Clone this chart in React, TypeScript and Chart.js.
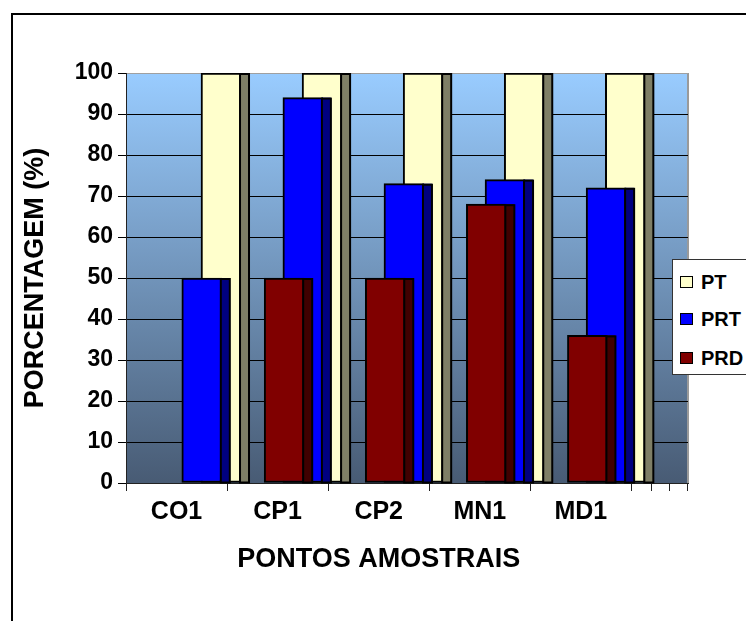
import React, { useEffect, useRef } from 'react';
import { Chart, registerables } from 'chart.js';

Chart.register(...registerables);

// ---- data ----
const categories = ['CO1', 'CP1', 'CP2', 'MN1', 'MD1'];
const ptValues = [100, 100, 100, 100, 100];
const prtValues = [50, 94, 73, 74, 72];
const prdValues = [0, 50, 50, 68, 36];
const seriesNames = ['PT', 'PRT', 'PRD'];
const yTickValues = [0, 10, 20, 30, 40, 50, 60, 70, 80, 90, 100];
const yAxisTitle = 'PORCENTAGEM (%)';
const xAxisTitle = 'PONTOS AMOSTRAIS';

// ---- style ----
const FONT = "'Liberation Sans', Arial, Helvetica, sans-serif";
const faceColors = ['#FFFFCC', '#0000FF', '#800000'];
const sideColors = ['#7F7F66', '#000080', '#400000'];
const seriesOffsets = [0.94, 0.75, 0.565]; // position of each series inside a category (3D depth look)
const drawOrder = [3, 2, 1];
const DEPTH = 0.56;
const depthTicks = [5.2, 5.38, 5.56];

const isHalf = (v: number) => Math.abs((v % 1) - 0.5) < 1e-6;

const plugin3d = {
  id: 'plot3d',
  beforeDraw(chart: any) {
    const { ctx, chartArea: a } = chart;
    ctx.save();
    const g = ctx.createLinearGradient(0, a.top, 0, a.bottom);
    g.addColorStop(0, '#99CCFF');
    g.addColorStop(1, '#485B74');
    ctx.fillStyle = g;
    ctx.fillRect(a.left, a.top, a.right - a.left, a.bottom - a.top);
    ctx.strokeStyle = '#9A9A9A';
    ctx.lineWidth = 2;
    ctx.beginPath();
    ctx.moveTo(a.right, a.top);
    ctx.lineTo(a.right, a.bottom);
    ctx.stroke();
    ctx.restore();
  },
  afterDatasetDraw(chart: any, args: any) {
    const ds = chart.data.datasets[args.index];
    const ctx = chart.ctx;
    ctx.save();
    args.meta.data.forEach((el: any) => {
      const { x, y, base, width } = el.getProps(['x', 'y', 'base', 'width'], true);
      if (Math.abs(base - y) < 0.5) return;
      const left = x + width / 2 - 1;
      ctx.fillStyle = ds.sideColor;
      ctx.fillRect(left, y, 9, base - y);
      ctx.strokeStyle = '#000';
      ctx.lineWidth = 2;
      ctx.strokeRect(left, y + 1, 9, base - y - 1);
    });
    ctx.restore();
  },
  afterDraw(chart: any) {
    const xs = chart.scales.x;
    const ctx = chart.ctx;
    ctx.save();
    ctx.font = `bold 27px ${FONT}`;
    ctx.fillStyle = '#000';
    ctx.textAlign = 'center';
    ctx.textBaseline = 'middle';
    ctx.fillText(xAxisTitle, xs.getPixelForValue(categories.length / 2), xs.bottom - 61);
    ctx.restore();
  },
};

export default function App() {
  const ref = useRef<HTMLCanvasElement>(null);

  useEffect(() => {
    if (!ref.current) return;
    Chart.defaults.font.family = FONT;
    Chart.defaults.color = '#000';
    const seriesValues = [ptValues, prtValues, prdValues];
    const datasets = seriesNames.map((name, s) => ({
      label: name,
      data: categories.map((_, i) => ({ x: i + seriesOffsets[s], y: seriesValues[s][i] })),
      backgroundColor: faceColors[s],
      borderColor: '#000',
      borderWidth: 2,
      borderSkipped: false,
      barThickness: 40,
      grouped: false,
      order: drawOrder[s],
      sideColor: sideColors[s],
    }));
    const chart = new Chart(ref.current, {
      type: 'bar',
      data: { datasets: datasets as any },
      plugins: [plugin3d],
      options: {
        animation: false,
        responsive: false,
        layout: { padding: { top: 73, right: 58, bottom: 0, left: 0 } },
        plugins: { legend: { display: false }, tooltip: { enabled: false } },
        scales: {
          x: {
            type: 'linear',
            offset: false,
            min: 0,
            max: categories.length + DEPTH,
            afterBuildTicks: (scale: any) => {
              const t: number[] = [];
              for (let i = 0; i <= categories.length; i++) {
                t.push(i);
                if (i < categories.length) t.push(i + 0.5);
              }
              scale.ticks = [...t, ...depthTicks].map((v) => ({ value: v }));
            },
            afterFit: (scale: any) => {
              scale.height = 138;
            },
            ticks: {
              autoSkip: false,
              maxRotation: 0,
              padding: 6,
              font: { size: 25, weight: 'bold' },
              color: '#000',
              callback: (v: any) => (isHalf(Number(v)) ? categories[Math.floor(Number(v))] : ''),
            },
            grid: {
              offset: false,
              drawOnChartArea: false,
              tickLength: 8,
              color: (c: any) => (c.tick && isHalf(c.tick.value) ? 'rgba(0,0,0,0)' : '#222'),
              tickColor: (c: any) => (c.tick && isHalf(c.tick.value) ? 'rgba(0,0,0,0)' : '#222'),
            },
            border: { display: true, color: '#222', width: 1 },
          },
          y: {
            min: 0,
            max: 100,
            afterBuildTicks: (scale: any) => {
              scale.ticks = yTickValues.map((v) => ({ value: v }));
            },
            afterFit: (scale: any) => {
              scale.width = 126;
            },
            ticks: {
              padding: 5,
              font: { size: 23, weight: 'bold' },
              color: '#000',
            },
            grid: {
              color: (c: any) => (c.tick && c.tick.value === 100 ? '#A0A0A0' : '#000'),
              tickColor: '#000',
              tickLength: 8,
              lineWidth: 1,
            },
            border: { display: true, color: '#222', width: 1 },
            title: {
              display: true,
              text: yAxisTitle,
              font: { size: 27, weight: 'bold' },
              color: '#000',
              padding: { top: 19, bottom: 0 },
            },
          },
        },
      } as any,
    });
    return () => chart.destroy();
  }, []);

  const legendRowTops = [10, 47, 86];

  return (
    <div
      style={{
        position: 'fixed',
        left: 0,
        top: 0,
        width: 746,
        height: 621,
        overflow: 'hidden',
        background: '#fff',
      }}
    >
      <div
        style={{
          position: 'absolute',
          left: 11,
          top: 13,
          width: 800,
          height: 700,
          border: '2px solid #000',
          boxSizing: 'border-box',
        }}
      />
      <canvas
        ref={ref}
        width={746}
        height={621}
        style={{ position: 'absolute', left: 0, top: 0, display: 'block' }}
      />
      <div
        style={{
          position: 'absolute',
          left: 672,
          top: 259,
          width: 100,
          height: 116,
          border: '1px solid #333',
          background: '#fff',
          boxSizing: 'border-box',
          fontFamily: FONT,
          fontWeight: 'bold',
          fontSize: 20,
          color: '#000',
        }}
      >
        {seriesNames.map((name, s) => (
          <div
            key={name}
            style={{ position: 'absolute', left: 0, top: legendRowTops[s], height: 24, width: 100 }}
          >
            <div
              style={{
                position: 'absolute',
                left: 7,
                top: 6,
                width: 13,
                height: 12,
                background: faceColors[s],
                border: '1px solid #000',
                boxSizing: 'border-box',
              }}
            />
            <span style={{ position: 'absolute', left: 28, top: 0, lineHeight: '24px' }}>{name}</span>
          </div>
        ))}
      </div>
    </div>
  );
}
